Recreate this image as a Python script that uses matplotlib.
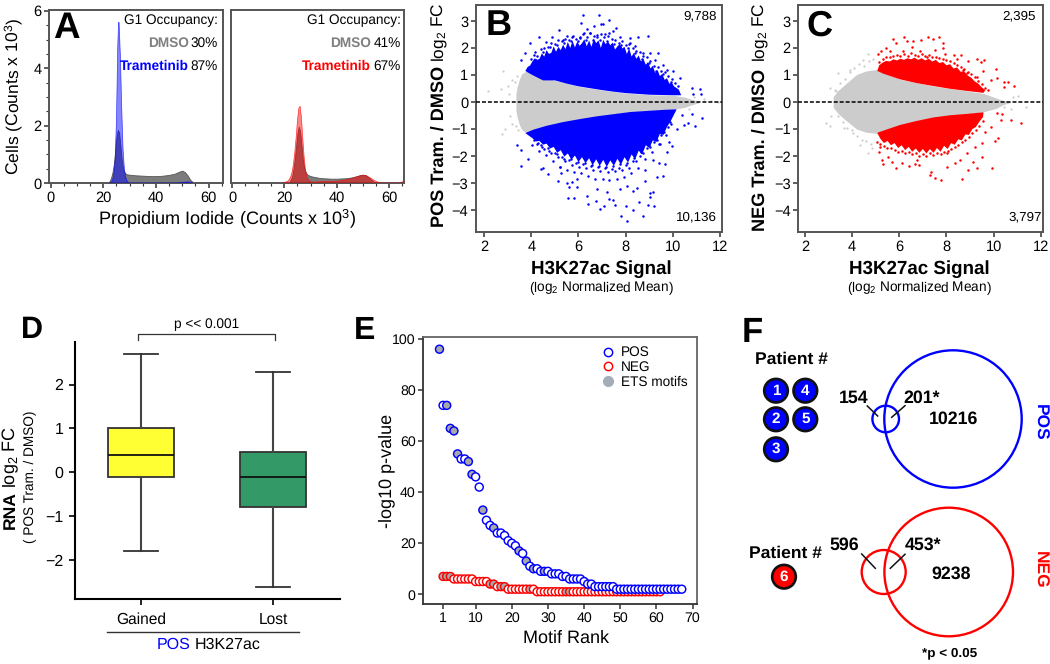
"""Multi-panel figure: cell cycle histograms, MA plots, RNA box plot, motif ranks, Venn."""

import matplotlib
matplotlib.use("Agg")
import matplotlib.pyplot as plt
from matplotlib.lines import Line2D
from matplotlib.patches import Circle
from matplotlib.ticker import MultipleLocator

plt.rcParams["font.family"] = ["Liberation Sans", "DejaVu Sans"]
plt.rcParams["mathtext.default"] = "regular"
plt.rcParams["text.hinting"] = "no_hinting"

W, H = 1050, 664
BLUE = "#0000FF"
RED = "#FF0000"
CLOUD_GREY = "#CCCCCC"
SPINE = "#555555"

# ---- panel A (x in counts x 10^3, y in cells x 10^3)
A_DMSO1_X = [21.5, 22, 22.5, 23, 23.5, 24, 24.5, 25, 25.5, 26, 26.5, 27, 27.5, 28, 28.5, 29, 30, 32, 34, 36,
             38, 40, 42, 44, 46, 47, 48, 49, 50, 51, 52, 53, 54, 55]
A_DMSO1_Y = [0, .02, .08, .2, .38, .65, 1.1, 1.6, 1.85, 1.75, 1.3, .8, .5, .38, .33, .3, .29, .27, .26, .25,
             .24, .24, .25, .27, .3, .32, .36, .4, .43, .38, .27, .12, .03, 0]
A_TRAM1_X = [22.5, 23, 23.5, 24, 24.5, 25, 25.5, 25.8, 26, 26.5, 27, 27.5, 28, 28.5, 29, 29.5, 30, 48, 50, 52, 53, 54]
A_TRAM1_Y = [0, .02, .1, .3, .8, 2.2, 4.8, 5.6, 5.6, 4.4, 2.6, 1.2, .5, .2, .08, .02, 0, 0, .02, .04, .03, 0]
A_DMSO2_X = [20.5, 21.5, 22, 22.5, 23, 23.5, 24, 24.5, 25, 25.5, 26, 26.5, 27, 27.5, 28, 28.5, 29, 30, 32, 34,
             36, 38, 40, 42, 44, 46, 48, 49, 50, 51, 52, 53, 54, 55]
A_DMSO2_Y = [0, .02, .05, .12, .25, .5, .85, 1.3, 1.75, 1.96, 1.8, 1.35, .85, .55, .4, .32, .28, .24, .2, .17,
             .16, .15, .15, .16, .17, .2, .25, .28, .29, .27, .21, .13, .05, 0]
A_TRAM2_X = [19.5, 20.5, 21.5, 22, 22.5, 23, 23.5, 24, 24.5, 25, 25.5, 26, 26.5, 27, 27.5, 28, 28.5, 29, 30, 31,
             33, 36, 40, 43, 45, 47, 49, 50, 51, 52, 53, 54, 55, 56, 57, 64.5, 65.5]
A_TRAM2_Y = [0, .03, .08, .14, .25, .4, .7, 1.1, 1.6, 2.2, 2.6, 2.68, 2.3, 1.6, .95, .5, .25, .12, .05, .03,
             .04, .05, .06, .1, .14, .19, .25, .27, .27, .22, .17, .11, .06, .02, 0, 0, .07]
A_X_TICKS = [0, 20, 40, 60]
A_Y_TICKS = [0, 2, 4, 6]
A_HEADER = "G1 Occupancy:"
A_DMSO_PCT = ["30%", "41%"]
A_TRAM_PCT = ["87%", "67%"]

# ---- panels B and C: edges of the solid regions, then single dots.
# The clouds hold thousands of dots, so only the outermost ones are read one by one,
# the EDGE rows trace the rough rim of each solid region and the SPECK rows are
# estimates of the thinning band beyond it.
MA_X_TICKS = [2, 4, 6, 8, 10, 12]
MA_Y_TICKS = [-4, -3, -2, -1, 0, 1, 2, 3]

B_GREY_X = [3.35, 3.4, 3.5, 3.6, 3.8, 4, 5, 6, 7, 8, 9, 10, 10.5, 10.8, 11.1]
B_GREY_HI = [.3, .55, .85, 1.05, 1.15, 1.02, .8, .58, .44, .33, .27, .25, .18, .1, .03]
B_GREY_LO = [-.3, -.55, -.85, -1.02, -1.15, -1.05, -.85, -.65, -.5, -.38, -.32, -.27, -.2, -.1, -.03]
B_GREY_DOT_X = [2.17, 2.72, 2.8, 2.78, 2.9, 3.0, 3.05, 3.1, 3.2, 3.2, 3.3, 3.35, 3.4, 3.45, 11.3, 11.6, 11.9, 10.7, 10.9]
B_GREY_DOT_Y = [.42, .47, 1.15, -1.17, -1.0, .6, .3, -.5, .8, -.8, .75, -.9, .95, -1.05, .1, .05, .0, -.25, .2]
B_UP_X = [3.75, 4, 4.5, 5, 5.5, 6, 6.5, 7, 7.5, 8, 8.5, 9, 9.5, 10, 10.35]
B_UP_LO = [1.15, 1.02, .8, .8, .68, .58, .51, .44, .38, .33, .3, .27, .26, .25, .25]
B_DN_X = [3.75, 4.1, 4.65, 5.36, 6.07, 6.77, 7.48, 8.19, 8.89, 9.6, 10.16]
B_DN_HI = [-1.15, -1.02, -.88, -.74, -.63, -.53, -.45, -.37, -.33, -.29, -.27]
B_DOT_X = [6.21, 6.86, 7.30, 6.11, 6.66, 6.94, 7.03, 7.59, 7.45, 7.31, 6.38, 6.24, 5.16, 4.90, 4.32, 3.95, 4.61, 3.75,
           3.58, 5.53, 5.73, 6.77, 7.13, 7.76, 8.19, 8.54, 8.93, 8.19, 8.40, 9.03, 9.39, 9.25, 9.60, 10.02, 9.74, 10.30,
           10.83, 11.15, 10.87, 11.18, 4.16, 5.36, 6.07, 6.49, 7.76, 8.75,
           4.0, 4.1, 4.25, 4.4, 4.55, 4.7, 4.85, 5.0, 5.15, 5.3, 5.45, 5.6, 5.75, 5.9, 6.05, 6.2, 6.35, 6.5, 6.65, 6.8,
           6.95, 7.1, 7.25, 7.4, 7.55, 7.7, 7.85, 8.0, 8.15, 8.3, 8.45, 8.6, 8.75, 8.9, 9.05, 9.2, 9.35, 9.5, 9.65, 9.8,
           9.95, 10.1, 10.2, 4.2, 4.5, 4.8, 5.1, 5.4, 5.7, 6.0, 6.3, 6.6, 6.9, 7.2, 7.5, 7.8, 8.1, 8.4, 8.7, 9.0, 9.3,
           9.6, 9.9]
B_DOT_Y = [3.21, 3.21, 3.04, 2.94, 2.81, 2.89, 2.89, 2.74, 2.64, 2.57, 2.69, 2.54, 2.67, 2.42, 2.42, 2.17, 2.22, 1.83,
           1.55, 2.44, 2.39, 2.48, 2.52, 2.42, 2.36, 2.42, 2.44, 2.17, 2.07, 1.83, 1.83, 1.55, 1.37, 1.16, 1.18, .88,
           .51, .47, .30, .30, 1.86, 2.30, 2.36, 2.54, 2.05, 1.80,
           1.6, 1.75, 1.7, 1.95, 2.0, 2.05, 2.2, 2.15, 2.3, 2.25, 2.35, 2.3, 2.45, 2.35, 2.4, 2.5, 2.4, 2.55, 2.45, 2.4,
           2.5, 2.4, 2.45, 2.35, 2.3, 2.2, 2.25, 2.1, 2.15, 2.0, 1.9, 1.85, 1.7, 1.65, 1.5, 1.35, 1.3, 1.15, 1.1, .95,
           .85, .7, .6, 1.55, 1.85, 2.05, 2.1, 2.2, 2.25, 2.25, 2.3, 2.3, 2.3, 2.25, 2.15, 2.1, 2.0, 1.8, 1.6, 1.45,
           1.15, 1.05, .75]
B_DOT2_X = [3.38, 3.58, 3.55, 3.88, 4.51, 4.40, 4.73, 5.22, 5.26, 5.14, 5.53, 5.62, 5.71, 5.95, 5.57, 5.81, 6.38, 6.42,
            6.75, 7.08, 6.91, 7.31, 7.48, 7.55, 7.79, 8.07, 8.75, 8.02, 8.30, 8.58, 8.96, 9.20, 9.03, 9.15, 9.03, 8.47,
            8.33, 8.82, 9.32, 9.57, 9.43, 9.67, 9.46, 9.85, 9.95, 10.16, 10.47, 10.94, 11.22, 10.37, 10.80, 10.66, 9.74,
            9.17, 8.82, 5.93, 6.77, 7.20, 7.76, 8.04]
B_DOT2_Y = [-1.58, -1.79, -2.38, -2.10, -2.44, -2.47, -2.65, -2.41, -2.62, -2.93, -2.99, -3.15, -2.96, -3.15, -3.56,
            -3.56, -3.49, -3.77, -3.67, -3.86, -3.95, -3.58, -3.64, -3.80, -4.20, -4.42, -4.23, -3.85, -3.99, -3.70,
            -3.80, -3.83, -3.52, -3.33, -3.36, -3.19, -3.31, -2.94, -2.78, -2.72, -2.25, -2.28, -1.54, -1.48, -1.63,
            -.99, -.86, -.90, -.59, -.49, -.43, -.77, -1.85, -2.16, -2.53, -2.84, -3.23, -3.33, -3.23, -3.09]
B_EDGE_UP_X = [3.85, 3.95, 4.05, 4.15, 4.25, 4.35, 4.45, 4.55, 4.65, 4.75, 4.85, 4.95, 5.05, 5.15, 5.25, 5.35, 5.45,
               5.55, 5.65, 5.75, 5.85, 5.95, 6.05, 6.15, 6.25, 6.35, 6.45, 6.55, 6.65, 6.75, 6.85, 6.95, 7.05, 7.15,
               7.25, 7.35, 7.45, 7.55, 7.65, 7.75, 7.85, 7.95, 8.05, 8.15, 8.25, 8.35, 8.45, 8.55, 8.65, 8.75, 8.85,
               8.95, 9.05, 9.15, 9.25, 9.35, 9.45, 9.55, 9.65, 9.75, 9.85, 9.95, 10.05, 10.15, 10.25]
B_EDGE_UP_Y = [1.30, 1.35, 1.50, 1.62, 1.55, 1.60, 1.80, 1.68, 1.92, 1.78, 1.82, 2.06, 1.86, 2.04, 1.92, 2.12, 1.96,
               2.22, 2.00, 2.26, 2.02, 2.24, 2.08, 2.18, 2.32, 2.06, 2.28, 2.04, 2.34, 2.18, 2.28, 2.00, 2.30, 2.14,
               2.24, 2.10, 2.20, 1.94, 2.06, 2.14, 1.98, 2.04, 1.78, 1.98, 1.68, 1.82, 1.60, 1.72, 1.50, 1.60, 1.38,
               1.48, 1.24, 1.34, 1.08, 1.18, .96, 1.04, .82, .88, .68, .72, .58, .52, .46]
B_EDGE_DN_X = [4.05, 4.2, 4.35, 4.5, 4.65, 4.8, 4.95, 5.1, 5.25, 5.4, 5.55, 5.7, 5.85, 6.0, 6.15, 6.3, 6.45, 6.6, 6.75,
               6.9, 7.05, 7.2, 7.35, 7.5, 7.65, 7.8, 7.95, 8.1, 8.25, 8.4, 8.55, 8.7, 8.85, 9.0, 9.15, 9.3, 9.45, 9.6,
               9.75, 9.9]
B_EDGE_DN_Y = [-1.34, -1.46, -1.44, -1.58, -1.54, -1.72, -1.66, -1.88, -1.78, -2.02, -1.90, -2.14, -1.98, -2.22, -2.04,
               -2.26, -2.08, -2.34, -2.12, -2.36, -2.14, -2.40, -2.16, -2.36, -2.10, -2.32, -2.04, -2.24, -1.94, -2.12,
               -1.80, -1.94, -1.60, -1.70, -1.42, -1.48, -1.18, -1.22, -.92, -.72]
B_SPECK_X2 = [4.12, 4.27, 4.41, 4.47, 4.71, 4.77, 5.02, 5.07, 5.31, 5.37, 5.61, 5.67, 5.91, 5.97, 6.21, 6.27, 6.51, 6.57,
              6.81, 6.87, 7.11, 7.17, 7.41, 7.47, 7.71, 7.77, 8.01, 8.07, 8.31, 8.37, 8.61, 8.67, 8.91, 8.97, 9.21, 9.27,
              9.51, 9.57, 9.81, 9.87]
B_SPECK_Y2 = [-1.42, -1.52, -1.60, -1.66, -1.72, -1.80, -1.88, -1.94, -2.02, -2.10, -2.16, -2.12, -2.24, -2.22, -2.30,
              -2.26, -2.36, -2.32, -2.42, -2.38, -2.46, -2.40, -2.48, -2.36, -2.44, -2.30, -2.34, -2.24, -2.18, -2.08,
              -1.98, -1.86, -1.70, -1.60, -1.48, -1.34, -1.22, -1.06, -.92, -.74]
B_SPECK_X3 = [4.02, 4.23, 4.31, 4.56, 4.61, 4.84, 4.91, 5.14, 5.22, 5.43, 5.52, 5.73, 5.82, 6.03, 6.12, 6.34, 6.41, 6.63,
              6.72, 6.93, 7.02, 7.24, 7.31, 7.53, 7.62, 7.84, 7.91, 8.13, 8.22, 8.44, 8.52, 8.73, 8.81, 9.04, 9.12, 9.33,
              9.41, 9.64, 9.72, 9.93]
B_SPECK_Y3 = [-1.58, -1.56, -1.82, -1.74, -1.96, -1.88, -2.20, -2.04, -2.40, -2.18, -2.52, -2.32, -2.60, -2.40, -2.62,
              -2.44, -2.74, -2.50, -2.84, -2.54, -2.86, -2.58, -2.90, -2.56, -2.84, -2.52, -2.76, -2.44, -2.62, -2.20,
              -2.44, -1.90, -2.10, -1.66, -1.84, -1.40, -1.56, -1.12, -1.22, -.80]
B_COUNTS = ["9,788", "10,136"]

C_GREY_X = [3.2, 3.4, 3.7, 4.19, 4.6, 5.07, 6.03, 7.45, 8.86, 9.57, 10.13, 10.4, 10.7]
C_GREY_HI = [.2, .42, .65, 1.02, 1.15, 1.21, .84, .59, .41, .32, .14, .06, .02]
C_GREY_LO = [-.2, -.42, -.65, -1.0, -1.12, -1.16, -.85, -.57, -.44, -.36, -.23, -.1, -.02]
C_GREY_DOT_X = [2.89, 3.06, 3.09, 3.27, 3.06, 3.41, 3.91, 4.69, 4.48, 4.33, 4.69, 4.83, 3.66, 4.05, 11.05, 10.84, 11.36,
                10.73, 10.42, 3.3, 3.5, 3.7, 3.9, 4.1, 4.3, 4.5, 4.7, 4.9, 3.4, 3.6, 3.8, 4.0, 4.2, 4.4, 4.6, 4.8]
C_GREY_DOT_Y = [-.77, -.88, -.52, .44, .51, 1.06, 1.19, 1.78, 1.56, -1.59, -1.88, -1.72, -.98, -1.16, .22, .20, -.20,
                -.27, -.17, .4, .7, .85, 1.1, 1.25, 1.4, 1.35, 1.5, 1.6, -.5, -.75, -.95, -1.05, -1.25, -1.4, -1.45, -1.55]
C_UP_X = [5.07, 5.32, 6.03, 6.74, 7.45, 8.15, 8.86, 9.57]
C_UP_LO = [1.15, 1.05, .84, .7, .59, .49, .41, .34]
C_DN_X = [5.07, 5.12, 6.03, 6.74, 7.45, 8.15, 8.86, 9.57]
C_DN_HI = [-1.15, -1.12, -.85, -.7, -.57, -.49, -.44, -.38]
C_DOT_X = [5.73, 6.19, 6.34, 5.86, 6.57, 6.53, 6.92, 7.20, 7.42, 7.70, 7.84, 7.87, 5.44, 5.22, 5.11, 5.61, 6.17, 6.88,
           7.52, 7.16, 7.94, 8.32, 8.61, 8.44, 8.93, 9.28, 9.45, 9.60, 10.10, 9.54, 9.88, 10.16, 10.44, 10.59, 10.44,
           10.87, 9.28, 8.86, 8.72, 9.14, 9.78]
C_DOT_Y = [2.33, 2.42, 2.27, 2.17, 2.27, 2.02, 2.30, 2.40, 2.32, 2.42, 2.20, 1.99, 1.99, 1.90, 1.78, 1.87, 1.87, 1.90,
           1.93, 1.65, 1.78, 1.74, 1.74, 1.58, 1.53, 1.58, 1.49, 1.56, 1.21, 1.16, .82, .90, .73, .75, .54, .61, .94,
           1.09, 1.19, .75, .44]
C_DOT2_X = [10.13, 10.35, 10.30, 10.73, 11.15, 10.18, 10.06, 9.52, 9.89, 9.64, 9.50, 9.92, 9.28, 9.11, 8.90, 8.66, 7.76,
            7.52, 7.35, 7.30, 6.85, 6.67, 6.40, 6.10, 5.86, 5.68, 5.30, 5.25, 5.54, 5.13, 5.18, 5.07, 6.74, 8.01, 8.36,
            8.58, 8.86, 9.21, 8.01]
C_DOT2_Y = [-.40, -.44, -.67, -.67, -.77, -1.32, -1.44, -1.51, -.94, -1.10, -2.02, -2.43, -2.46, -2.21, -2.52, -2.85,
            -2.89, -2.80, -2.58, -2.70, -2.33, -2.31, -2.37, -2.25, -2.46, -2.21, -2.31, -2.15, -2.02, -1.84, -1.65, -1.47,
            -2.15, -2.40, -2.27, -2.15, -1.90, -1.65, -1.90]
C_EDGE_UP_X = [5.15, 5.3, 5.45, 5.6, 5.75, 5.9, 6.05, 6.2, 6.35, 6.5, 6.65, 6.8, 6.95, 7.1, 7.25, 7.4, 7.55, 7.7, 7.85,
               8.0, 8.15, 8.3, 8.45, 8.6, 8.75, 8.9, 9.05, 9.2, 9.35, 9.5, 9.65]
C_EDGE_UP_Y = [1.36, 1.46, 1.52, 1.50, 1.58, 1.54, 1.60, 1.56, 1.62, 1.58, 1.64, 1.56, 1.62, 1.54, 1.60, 1.50, 1.56,
               1.44, 1.48, 1.36, 1.40, 1.24, 1.28, 1.12, 1.14, .98, .90, .76, .68, .54, .44]
C_SPECK_UP_Y = [1.48, 1.58, 1.68, 1.66, 1.72, 1.74, 1.70, 1.76, 1.72, 1.80, 1.74, 1.72, 1.78, 1.70, 1.74, 1.66, 1.68,
                1.62, 1.60, 1.54, 1.50, 1.44, 1.38, 1.30, 1.22, 1.12, 1.02, .92, .78, .66, .52]
C_EDGE_DN_X = [5.2, 5.35, 5.5, 5.65, 5.8, 5.95, 6.1, 6.25, 6.4, 6.55, 6.7, 6.85, 7.0, 7.15, 7.3, 7.45, 7.6, 7.75, 7.9,
               8.05, 8.2, 8.35, 8.5, 8.65, 8.8, 8.95, 9.1, 9.25, 9.4, 9.55]
C_EDGE_DN_Y = [-1.36, -1.52, -1.44, -1.60, -1.52, -1.70, -1.60, -1.78, -1.66, -1.84, -1.72, -1.88, -1.74, -1.90, -1.74,
               -1.88, -1.70, -1.84, -1.62, -1.74, -1.52, -1.58, -1.38, -1.42, -1.20, -1.22, -1.00, -.92, -.72, -.56]
C_SPECK_DN_Y = [-1.56, -1.64, -1.72, -1.70, -1.78, -1.84, -1.80, -1.90, -1.86, -1.94, -1.90, -1.98, -1.92, -2.00, -1.90,
                -1.96, -1.88, -1.94, -1.84, -1.80, -1.74, -1.66, -1.58, -1.48, -1.40, -1.28, -1.16, -1.02, -.88, -.70]
C_COUNTS = ["2,395", "3,797"]

# ---- panel D box plot
D_LABELS = ["Gained", "Lost"]
D_WHISLO = [-1.79, -2.63]
D_Q1 = [-0.10, -0.79]
D_MED = [0.39, -0.10]
D_Q3 = [1.02, 0.46]
D_WHISHI = [2.70, 2.29]
D_COLORS = ["#FFFF33", "#339966"]
D_Y_TICKS = [-2, -1, 0, 1, 2]
D_Y_LABELS = ["\u22122", "\u22121", "0", "1", "2"]

# ---- panel E motif ranks
E_POS = [96, 74, 74, 65, 64, 55, 53, 53, 52, 47, 46, 42, 33, 29, 27, 26, 24, 24, 23, 21, 20, 19, 17, 16, 13, 11, 10, 10,
         9, 9, 9, 8, 8, 8, 7, 7, 6, 6, 6, 6, 5, 4, 4, 3, 3, 3, 3, 3, 3, 2, 2, 2, 2, 2, 2, 2, 2, 2, 2, 2, 2, 2, 2, 2, 2, 2,
         2, 2]
E_POS_RANK = list(range(0, 68))
E_POS_ETS = [0, 2, 3, 4, 5, 8, 9, 12, 15, 22, 24, 26, 29]
E_NEG = [7, 7, 7, 6, 6, 6, 6, 6, 6, 5, 5, 5, 5, 4, 4, 3, 3, 3, 2, 2, 2, 2, 2, 2, 2, 2, 1, 1, 1, 1, 1, 1, 1, 1, 1, 1, 1, 1,
         1, 1, 1, 1, 1, 1, 1, 1, 1, 1, 1, 1, 1, 1, 1, 1, 1, 1, 1, 1, 1, 1, 1]
E_NEG_RANK = list(range(1, 62))
E_NEG_ETS = [1, 2, 3, 14, 15, 17, 18, 25, 35, 36]
E_X_TICKS = [1, 10, 20, 30, 40, 50, 60, 70]
E_Y_TICKS = [0, 20, 40, 60, 80, 100]

# ---- panel F
F_POS_COUNTS = ["154", "201*", "10216"]
F_NEG_COUNTS = ["596", "453*", "9238"]
F_POS_PATIENTS = ["1", "4", "2", "5", "3"]
F_NEG_PATIENTS = ["6"]


def px_axes(fig, left, top, right, bottom):
    """Axes placed by picture pixels, y measured from the top."""
    return fig.add_axes([left / W, 1 - bottom / H, (right - left) / W, (bottom - top) / H])


def style_box(ax, color=SPINE, width=1.4):
    for spine in ax.spines.values():
        spine.set_edgecolor(color)
        spine.set_linewidth(width)
    ax.tick_params(width=1.1, length=3.5, color="#333333", pad=2)


def hist_panel(ax, dmso_x, dmso_y, tram_x, tram_y, color):
    ax.fill_between(dmso_x, dmso_y, facecolor="#7C7C7C", edgecolor="#555555", linewidth=0.6, zorder=2)
    ax.fill_between(tram_x, tram_y, facecolor=color, edgecolor="none", alpha=0.48, zorder=3)
    ax.plot(tram_x, tram_y, color=color, linewidth=0.5, alpha=0.7, zorder=4)
    ax.set_ylim(0, 6.03)
    ax.set_xticks(A_X_TICKS)
    ax.xaxis.set_minor_locator(MultipleLocator(5))
    style_box(ax)
    ax.tick_params(axis="both", labelsize=10.5)
    ax.tick_params(axis="both", which="minor", length=2, width=0.8, color="#333333")


def ma_panel(ax, grey, grey_dots, regions, dot_sets, color):
    ax.fill_between(grey[0], grey[1], grey[2], color=CLOUD_GREY, linewidth=0, zorder=1)
    ax.scatter(grey_dots[0], grey_dots[1], s=2.6, color=CLOUD_GREY, linewidths=0, zorder=1)
    # each region runs along its rough outer rim and back along the grey wedge
    for rim_x, rim_y, wedge_x, wedge_y in regions:
        ax.fill(list(rim_x) + list(wedge_x)[::-1], list(rim_y) + list(wedge_y)[::-1],
                color=color, linewidth=0, zorder=2)
    for xs, ys in dot_sets:
        ax.scatter(xs, ys, s=3.2, color=color, linewidths=0, zorder=3)
    ax.axhline(0, color="black", linewidth=1.1, dashes=(2.6, 1.3), zorder=4)
    ax.set_ylim(-4.81, 3.59)
    ax.set_xticks(MA_X_TICKS)
    ax.set_yticks(MA_Y_TICKS)
    style_box(ax)
    ax.tick_params(labelsize=10.5)


def motif_series(ax, ranks, values, ets, color, zorder):
    fills = ["#A8A8A8" if r in ets else "white" for r in ranks]
    ax.scatter(ranks, values, s=33, facecolors=fills, edgecolors=color, linewidths=1.05, zorder=zorder)


def main():
    fig = plt.figure(figsize=(W / 100, H / 100), dpi=100, facecolor="white")

    # panel A
    ax = px_axes(fig, 49, 10, 223, 183)
    hist_panel(ax, A_DMSO1_X, A_DMSO1_Y, A_TRAM1_X, A_TRAM1_Y, BLUE)
    ax.set_xlim(-0.65, 65.5)
    ax.set_yticks(A_Y_TICKS)
    ax.yaxis.set_minor_locator(MultipleLocator(0.5))

    ax = px_axes(fig, 231, 10, 404.3, 183)
    hist_panel(ax, A_DMSO2_X, A_DMSO2_Y, A_TRAM2_X, A_TRAM2_Y, RED)
    ax.set_xlim(-0.4, 65.8)
    ax.set_yticks([])

    # panels B and C
    ax = px_axes(fig, 476, 5, 722, 232)
    ma_panel(ax, (B_GREY_X, B_GREY_HI, B_GREY_LO), (B_GREY_DOT_X, B_GREY_DOT_Y),
             [(B_EDGE_UP_X, B_EDGE_UP_Y, B_UP_X, B_UP_LO), (B_EDGE_DN_X, B_EDGE_DN_Y, B_DN_X, B_DN_HI)],
             [(B_DOT_X, B_DOT_Y), (B_DOT2_X, B_DOT2_Y), (B_SPECK_X2, B_SPECK_Y2), (B_SPECK_X3, B_SPECK_Y3)], BLUE)
    ax.set_xlim(1.66, 12.08)

    ax = px_axes(fig, 798.3, 5, 1042.7, 232)
    ma_panel(ax, (C_GREY_X, C_GREY_HI, C_GREY_LO), (C_GREY_DOT_X, C_GREY_DOT_Y),
             [(C_EDGE_UP_X, C_EDGE_UP_Y, C_UP_X, C_UP_LO), (C_EDGE_DN_X, C_EDGE_DN_Y, C_DN_X, C_DN_HI)],
             [(C_DOT_X, C_DOT_Y), (C_DOT2_X, C_DOT2_Y), (C_EDGE_UP_X, C_SPECK_UP_Y), (C_EDGE_DN_X, C_SPECK_DN_Y)], RED)
    ax.set_xlim(1.72, 12.08)

    # panel D
    ax = px_axes(fig, 75.3, 341.7, 340, 599.3)
    stats = [
        {"whislo": lo, "q1": q1, "med": med, "q3": q3, "whishi": hi, "fliers": []}
        for lo, q1, med, q3, hi in zip(D_WHISLO, D_Q1, D_MED, D_Q3, D_WHISHI)
    ]
    parts = ax.bxp(
        stats, positions=[1, 2], widths=0.5, capwidths=0.255, patch_artist=True, showfliers=False,
        boxprops={"edgecolor": "#333333", "linewidth": 1.3},
        medianprops={"color": "#111111", "linewidth": 1.3},
        whiskerprops={"color": "#444444", "linewidth": 1.5},
        capprops={"color": "#333333", "linewidth": 1.3},
    )
    for box, color in zip(parts["boxes"], D_COLORS):
        box.set_facecolor(color)
    ax.set_xlim(0.502, 2.508)
    ax.set_ylim(-2.90, 2.98)
    ax.set_xticks([1, 2], D_LABELS)
    ax.set_yticks(D_Y_TICKS, D_Y_LABELS)
    ax.spines["top"].set_visible(False)
    ax.spines["right"].set_visible(False)
    ax.spines["left"].set_linewidth(1.5)
    ax.spines["bottom"].set_linewidth(1.5)
    ax.tick_params(length=4.5, width=1.2, labelsize=11.2, pad=5)
    ax.tick_params(axis="y", labelsize=11.5, pad=4)

    # panel E
    ax = px_axes(fig, 423.3, 336.7, 697.3, 604)
    motif_series(ax, E_NEG_RANK, E_NEG, E_NEG_ETS, RED, 2)
    motif_series(ax, E_POS_RANK, E_POS, E_POS_ETS, BLUE, 3)
    ax.set_xlim(-4.47, 71.3)
    ax.set_ylim(-3.8, 100.9)
    ax.set_xticks(E_X_TICKS)
    ax.set_yticks(E_Y_TICKS)
    style_box(ax, "#666666", 1.3)
    ax.spines["left"].set_color("#333333")
    ax.spines["bottom"].set_color("#333333")
    ax.tick_params(labelsize=10.2, length=3.5, pad=2)
    handles = [
        Line2D([], [], linestyle="", marker="o", markersize=6, markerfacecolor="white", markeredgecolor=BLUE,
               markeredgewidth=1.05, label="POS"),
        Line2D([], [], linestyle="", marker="o", markersize=6, markerfacecolor="white", markeredgecolor=RED,
               markeredgewidth=1.05, label="NEG"),
        Line2D([], [], linestyle="", marker="o", markersize=7, markerfacecolor="#A3ADB8", markeredgecolor="#A3ADB8",
               label="ETS motifs"),
    ]
    ax.legend(handles=handles, loc="upper right", frameon=False, fontsize=9.8, handletextpad=0.3,
              labelspacing=0.13, borderaxespad=0, bbox_to_anchor=(0.985, 0.985), handlelength=1.4)

    # everything placed by hand lives on a full-figure overlay in pixel coordinates
    ov = fig.add_axes([0, 0, 1, 1], facecolor="none", zorder=10)
    ov.set_xlim(0, W)
    ov.set_ylim(H, 0)
    ov.axis("off")

    def put(x, y, s, size, **kw):
        kw.setdefault("ha", "center")
        kw.setdefault("va", "center")
        ov.text(x, y, s, fontsize=size, **kw)

    for x, y, letter, size in [(66.7, 28, "A", 26.5), (499, 26, "B", 26), (820, 26.7, "C", 26),
                               (32, 330, "D", 22), (365, 331, "E", 23), (752, 333, "F", 25)]:
        put(x, y, letter, size, fontweight="bold")

    # panel A text
    put(14, 96, "Cells (Counts x 10$^3$)", 12.6, rotation=90)
    put(227, 218, "Propidium Iodide (Counts x 10$^3$)", 13.1)
    for right, col, pct_dmso, pct_tram, tram_color in [(218, 189, A_DMSO_PCT[0], A_TRAM_PCT[0], BLUE),
                                                       (400.7, 371, A_DMSO_PCT[1], A_TRAM_PCT[1], RED)]:
        put(right, 20.7, A_HEADER, 9.8, ha="right")
        put(col, 43, "DMSO", 9.8, ha="right", fontweight="bold", color="#808080")
        put(right, 43, pct_dmso, 9.8, ha="right")
        put(col, 66.7, "Trametinib", 9.8, ha="right", fontweight="bold", color=tram_color)
        put(right, 66.7, pct_tram, 9.8, ha="right")

    # panels B and C text
    for x_lab, x_mid, name, bottom in [(439, 601.5, "POS Tram. / DMSO", 227), (760, 919.5, "NEG Tram. / DMSO", 231)]:
        put(x_lab, bottom, name, 13.1, rotation=90, va="bottom", fontweight="bold")
        put(x_lab, 62, "log$_2$ FC", 12.4, rotation=90, va="bottom")
        put(x_mid, 269, "H3K27ac Signal", 13.5, fontweight="bold")
        put(x_mid, 288, "(log$_2$ Normalized Mean)", 9.8)
    put(717, 15.7, B_COUNTS[0], 9.6, ha="right")
    put(717, 217, B_COUNTS[1], 9.6, ha="right")
    put(1036, 15.7, C_COUNTS[0], 9.6, ha="right")
    put(1041.7, 217, C_COUNTS[1], 9.6, ha="right")

    # panel D text
    put(206.7, 324, "p << 0.001", 9.8)
    ov.plot([137.7, 137.7, 275, 275], [340, 334, 334, 340], color="#333333", linewidth=0.9)
    put(10.5, 529, "RNA", 12.6, rotation=90, va="bottom", fontweight="bold")
    put(10.5, 488, "log$_2$ FC", 13, rotation=90, va="bottom")
    put(30.7, 476.7, "( POS Tram. / DMSO)", 9.8, rotation=90)
    ov.plot([106.7, 299.3], [632, 632], color="#333333", linewidth=1.0)
    put(156.5, 645, "POS", 11.5, ha="left", color=BLUE)
    put(195, 645, "H3K27ac", 11.5, ha="left")

    # panel E text
    put(387, 471, "-log10 p-value", 13, rotation=90)
    put(566.5, 638, "Motif Rank", 13)

    # panel F: Venn circles and the patient badges
    for cx, cy, r, color in [(953, 419, 68.7, BLUE), (885.7, 419, 13.3, BLUE),
                             (948.7, 572, 64.3, RED), (883.7, 572, 22, RED)]:
        ov.add_patch(Circle((cx, cy), r, fill=False, edgecolor=color, linewidth=1.7))
    for (cx, cy), digit in zip([(776, 390.7), (805.3, 390.7), (776, 419.3), (805.3, 419.3), (776, 449.3)], F_POS_PATIENTS):
        ov.add_patch(Circle((cx, cy), 11.8, facecolor=BLUE, edgecolor="#111111", linewidth=1.9))
        put(cx, cy, digit, 11, color="white", fontweight="bold")
    ov.add_patch(Circle((784, 576.7), 11.8, facecolor=RED, edgecolor="#111111", linewidth=1.9))
    put(784, 576.7, F_NEG_PATIENTS[0], 11, color="white", fontweight="bold")
    put(791, 359, "Patient #", 12.6, fontweight="bold")
    put(785.7, 553.3, "Patient #", 12.6, fontweight="bold")
    for (x, y), s in zip([(853.3, 397.7), (922, 397.7), (954, 419)], F_POS_COUNTS):
        put(x, y, s, 12.8, fontweight="bold")
    for (x, y), s in zip([(844.7, 545), (922.7, 545), (951, 574.3)], F_NEG_COUNTS):
        put(x, y, s, 12.8, fontweight="bold")
    for xs, ys in [((867.3, 877.7), (406, 416)), ((905, 891.7), (405.7, 417.3)),
                   ((861.7, 875.3), (554, 568.3)), ((905, 890.3), (554.3, 568.3))]:
        ov.plot(xs, ys, color="#111111", linewidth=1.1)
    put(1039, 422, "POS", 12.5, rotation=270, color=BLUE, fontweight="bold")
    put(1039, 570, "NEG", 12.5, rotation=270, color=RED, fontweight="bold")
    put(950, 653, "*p < 0.05", 9.7, fontweight="bold")

    fig.savefig("out.png", dpi=100, facecolor="white")
    plt.close(fig)


if __name__ == "__main__":
    main()
